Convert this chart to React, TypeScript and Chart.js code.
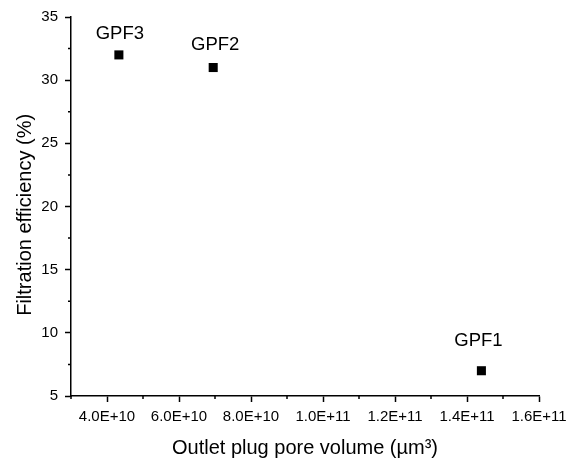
import React, { useEffect, useRef } from "react";
import { Chart, registerables } from "chart.js";

Chart.register(...registerables);

const sampleLabels = ["GPF1", "GPF2", "GPF3"];
const poreVolume = [1.44e11, 6.95e10, 4.33e10];
const filtrationEfficiency = [7, 31, 32];

const xMajorTicks = [4e10, 6e10, 8e10, 1e11, 1.2e11, 1.4e11, 1.6e11];
const xMinorTicks = [3e10, 5e10, 7e10, 9e10, 1.1e11, 1.3e11, 1.5e11];
const yMinorTicks = [7.5, 12.5, 17.5, 22.5, 27.5, 32.5];

const xTitle = "Outlet plug pore volume (µm³)";
const yTitle = "Filtration efficiency (%)   ";

const FONT = "'Liberation Sans', Arial, sans-serif";

const pointLabelPlugin = {
  id: "pointLabels",
  afterDatasetsDraw(chart: any, _args: any, opts: any) {
    const ctx = chart.ctx;
    const meta = chart.getDatasetMeta(0);
    ctx.save();
    ctx.font = `${opts.size}px ${FONT}`;
    ctx.fillStyle = "#000";
    ctx.textAlign = "center";
    ctx.textBaseline = "alphabetic";
    meta.data.forEach((el: any, i: number) => {
      const dx = (opts.dx && opts.dx[i]) || 0;
      const dy = (opts.dy && opts.dy[i]) || 18;
      ctx.fillText(sampleLabels[i], el.x + dx, el.y - dy);
    });
    ctx.restore();
  },
};

const minorTickPlugin = {
  id: "minorTicks",
  afterDraw(chart: any) {
    const ctx = chart.ctx;
    const xs = chart.scales.x;
    const ys = chart.scales.y;
    ctx.save();
    ctx.strokeStyle = "#000";
    ctx.lineWidth = 1.5;
    ctx.beginPath();
    xMinorTicks.forEach((v) => {
      const px = xs.getPixelForValue(v);
      ctx.moveTo(px, xs.top);
      ctx.lineTo(px, xs.top + 3);
    });
    yMinorTicks.forEach((v) => {
      const py = ys.getPixelForValue(v);
      ctx.moveTo(ys.right, py);
      ctx.lineTo(ys.right - 3, py);
    });
    ctx.stroke();
    ctx.restore();
  },
};

export default function App() {
  const ref = useRef<HTMLCanvasElement | null>(null);
  useEffect(() => {
    if (!ref.current) return;
    const chart = new Chart(ref.current, {
      type: "scatter",
      data: {
        datasets: [
          {
            data: poreVolume.map((x, i) => ({ x, y: filtrationEfficiency[i] })),
            pointStyle: "rect",
            pointRadius: 6.4,
            pointHoverRadius: 6.4,
            backgroundColor: "#000",
            borderColor: "#000",
            borderWidth: 0,
          },
        ],
      },
      options: {
        animation: false,
        responsive: true,
        maintainAspectRatio: false,
        layout: { padding: { top: 17, right: 40, left: 0, bottom: 0 } },
        plugins: {
          legend: { display: false },
          tooltip: { enabled: false },
          pointLabels: { size: 18.5, dy: [25, 18, 16], dx: [-3, 2, 1] },
        } as any,
        scales: {
          x: {
            type: "linear",
            position: "bottom",
            min: 3e10,
            max: 1.6e11,
            border: { color: "#000", width: 1.5 },
            grid: {
              drawOnChartArea: false,
              drawTicks: true,
              tickLength: 6,
              tickColor: "#000",
              tickWidth: 1.5,
            },
            afterBuildTicks: (scale: any) => {
              scale.ticks = xMajorTicks.map((v) => ({ value: v }));
            },
            afterFit: (scale: any) => {
              scale.height = 62;
            },
            ticks: {
              color: "#000",
              font: { size: 15, family: FONT },
              padding: 5.5,
              maxRotation: 0,
              autoSkip: false,
              callback: (v: any) => Number(v).toExponential(1).toUpperCase(),
            },
            title: {
              display: true,
              text: xTitle,
              color: "#000",
              font: { size: 20, family: FONT, lineHeight: 1.0 },
              padding: { top: 0, bottom: 0 },
            },
          },
          y: {
            type: "linear",
            min: 5,
            max: 35,
            border: { color: "#000", width: 1.5 },
            grid: {
              drawOnChartArea: false,
              drawTicks: true,
              tickLength: 6,
              tickColor: "#000",
              tickWidth: 1.5,
            },
            afterFit: (scale: any) => {
              scale.width = 71;
            },
            ticks: {
              stepSize: 5,
              color: "#000",
              font: { size: 15, family: FONT },
              padding: 7,
            },
            title: {
              display: true,
              text: yTitle,
              color: "#000",
              font: { size: 20, family: FONT },
              padding: { top: 13.5, bottom: 0 },
            },
          },
        },
      },
      plugins: [pointLabelPlugin, minorTickPlugin],
    });
    return () => chart.destroy();
  }, []);
  return (
    <div style={{ position: "fixed", left: 0, top: 0, width: 579, height: 458, background: "#fff" }}>
      <canvas ref={ref} />
    </div>
  );
}
